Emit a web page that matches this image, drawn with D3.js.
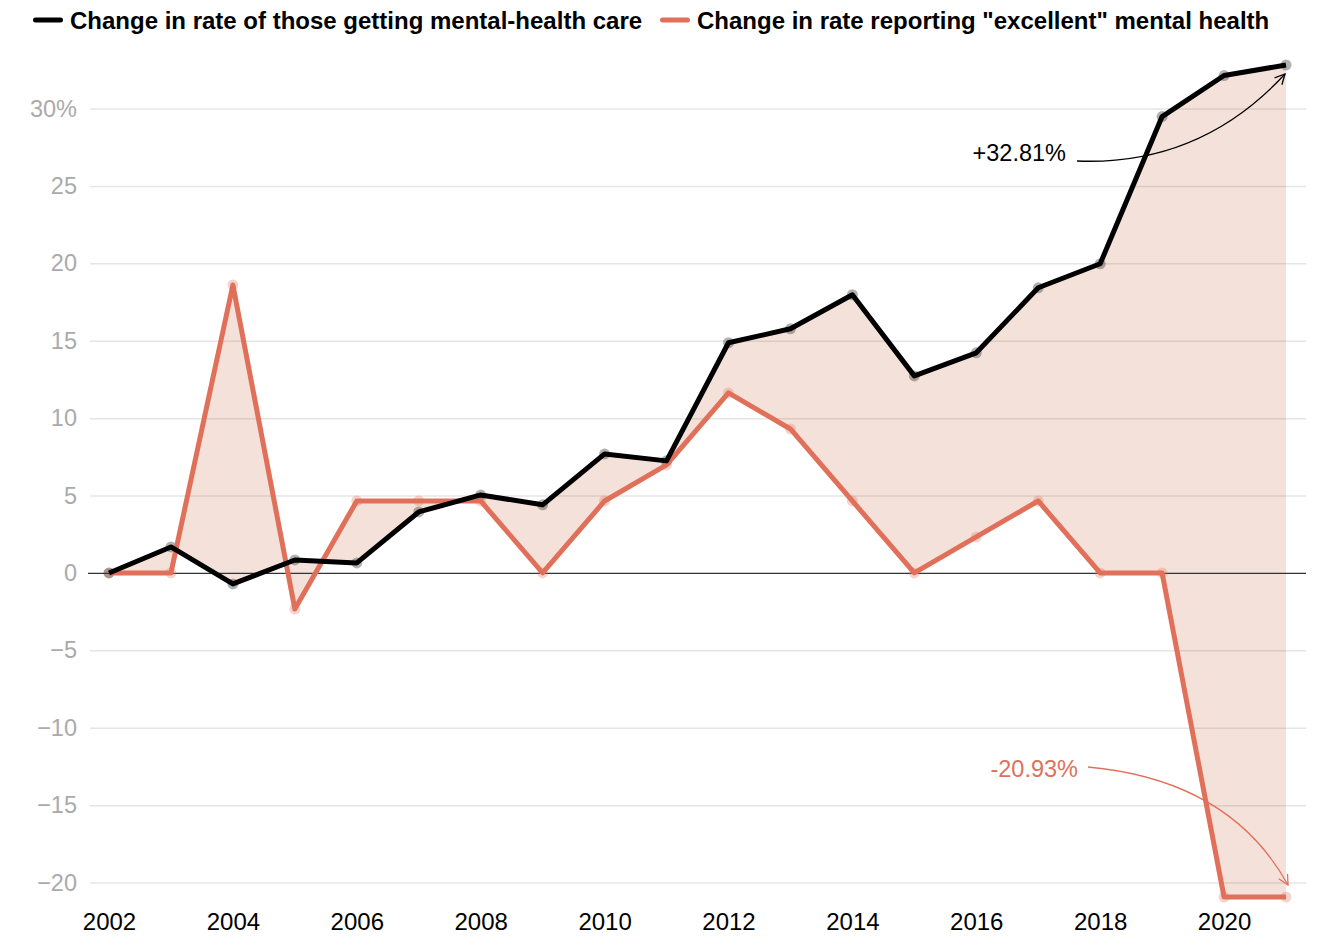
<!DOCTYPE html>
<html>
<head>
<meta charset="utf-8">
<script src="https://cdn.jsdelivr.net/npm/d3@7"></script>
<style>
  body { margin: 0; background: #fff; }
  svg { font-family: "Liberation Sans", Arial, sans-serif; }
</style>
</head>
<body>
<svg id="chart" width="1322" height="948"></svg>
<script>
// data
const years = [2002, 2003, 2004, 2005, 2006, 2007, 2008, 2009, 2010, 2011,
               2012, 2013, 2014, 2015, 2016, 2017, 2018, 2019, 2020, 2021];
const careChange = [0, 1.68, -0.71, 0.84, 0.65, 3.94, 5.04, 4.40, 7.69, 7.24,
                    14.87, 15.77, 17.97, 12.73, 14.22, 18.42, 19.97, 29.48, 32.13, 32.81];
const excellentChange = [0, 0, 18.60, -2.33, 4.65, 4.65, 4.65, 0, 4.65, 6.98,
                         11.63, 9.30, 4.65, 0, 2.33, 4.65, 0, 0, -20.93, -20.93];
const yTicks = [-20, -15, -10, -5, 0, 5, 10, 15, 20, 25, 30];
const xTicks = [2002, 2004, 2006, 2008, 2010, 2012, 2014, 2016, 2018, 2020];
const legendLabels = ["Change in rate of those getting mental-health care",
                      "Change in rate reporting \"excellent\" mental health"];

const black = "#000000";
const red = "#e0705a";
const fillColor = "#f4e2da";

const svg = d3.select("#chart");

const xScale = d3.scaleLinear()
                .domain([2002, 2021])
                .range([109, 1286]);

const yScale = d3.scaleLinear()
                .domain([-20.93, 32.81])
                .range([897, 65]);

const data = years.map((y, i) => ({year: y, care: careChange[i], exc: excellentChange[i]}));

// area between the two series
const area = d3.area()
                .x(d => xScale(d.year))
                .y0(d => yScale(d.exc))
                .y1(d => yScale(d.care));

svg.append("path")
    .datum(data)
    .attr("d", area)
    .attr("fill", fillColor);

// gridlines
const leftAxis = d3.axisLeft(yScale)
                .tickValues(yTicks)
                .tickSize(-(1306 - 90))
                .tickPadding(13)
                .tickFormat(d => d === 30 ? "30%" : d3.format("")(d));

svg.append("g")
    .attr("class", "axis")
    .attr("transform", "translate(90,0)")
    .call(leftAxis)
    .call(g => g.select(".domain").remove())
    .call(g => g.selectAll("line")
                .attr("stroke", d => d === 0 ? "#333333" : "rgba(0,0,0,0.1)")
                .attr("stroke-width", d => d === 0 ? 1.3 : 1.5)
                .attr("x1", d => d === 0 ? -2 : 0))
    .call(g => g.selectAll("text")
                .attr("fill", "#aaaaaa")
                .attr("font-size", "23.5px"));

const bottomAxis = d3.axisBottom(xScale)
                .tickValues(xTicks)
                .tickSize(0)
                .tickPadding(16)
                .tickFormat(d3.format("d"));

svg.append("g")
    .attr("class", "axis")
    .attr("transform", "translate(0,897)")
    .call(bottomAxis)
    .call(g => g.select(".domain").remove())
    .call(g => g.selectAll("text")
                .attr("fill", "#000")
                .attr("font-size", "24px"));

// dots behind lines
svg.append("g")
    .selectAll("circle")
    .data(data)
    .join("circle")
    .attr("cx", d => xScale(d.year))
    .attr("cy", d => yScale(d.exc))
    .attr("r", 5.5)
    .attr("fill", red)
    .attr("opacity", 0.3);

svg.append("g")
    .selectAll("circle")
    .data(data)
    .join("circle")
    .attr("cx", d => xScale(d.year))
    .attr("cy", d => yScale(d.care))
    .attr("r", 5.5)
    .attr("fill", "#000")
    .attr("opacity", 0.3);

const lineExc = d3.line()
                .x(d => xScale(d.year))
                .y(d => yScale(d.exc));

const lineCare = d3.line()
                .x(d => xScale(d.year))
                .y(d => yScale(d.care));

svg.append("path")
    .datum(data)
    .attr("d", lineExc)
    .attr("fill", "none")
    .attr("stroke", red)
    .attr("stroke-width", 5)
    .attr("stroke-linejoin", "round");

svg.append("path")
    .datum(data)
    .attr("d", lineCare)
    .attr("fill", "none")
    .attr("stroke", black)
    .attr("stroke-width", 5)
    .attr("stroke-linejoin", "round");

// legend
const legendX = [33, 660];
legendLabels.forEach((label, i) => {
    svg.append("line")
        .attr("x1", legendX[i] + 2.5)
        .attr("x2", legendX[i] + 27.5)
        .attr("y1", 20)
        .attr("y2", 20)
        .attr("stroke", i === 0 ? black : red)
        .attr("stroke-width", 5)
        .attr("stroke-linecap", "round");
    svg.append("text")
        .attr("x", legendX[i] + 37)
        .attr("y", 29)
        .attr("font-size", "24px")
        .attr("font-weight", "bold")
        .attr("fill", "#000")
        .text(label);
});

// annotations
const defs = svg.append("defs");
[["arrow-black", black], ["arrow-red", red]].forEach(([id, c]) => {
    defs.append("marker")
        .attr("id", id)
        .attr("viewBox", "0 0 12 12")
        .attr("refX", 11)
        .attr("refY", 6)
        .attr("markerWidth", 12)
        .attr("markerHeight", 12)
        .attr("markerUnits", "userSpaceOnUse")
        .attr("orient", "auto")
        .append("path")
        .attr("d", "M1,1 L11,6 L1,11")
        .attr("fill", "none")
        .attr("stroke", c)
        .attr("stroke-width", 1.3);
});

const lastCare = careChange[careChange.length - 1];
const lastExc = excellentChange[excellentChange.length - 1];
const xEnd = xScale(years[years.length - 1]);

svg.append("text")
    .attr("x", 1066)
    .attr("y", 161)
    .attr("text-anchor", "end")
    .attr("font-size", "23.5px")
    .attr("fill", black)
    .text("+" + lastCare.toFixed(2) + "%");

svg.append("path")
    .attr("d", `M1077,161 Q1200,166 ${xEnd - 1},${yScale(lastCare) + 9}`)
    .attr("fill", "none")
    .attr("stroke", black)
    .attr("stroke-width", 1.3)
    .attr("marker-end", "url(#arrow-black)");

svg.append("text")
    .attr("x", 1078)
    .attr("y", 777)
    .attr("text-anchor", "end")
    .attr("font-size", "23.5px")
    .attr("fill", red)
    .text(lastExc.toFixed(2) + "%");

svg.append("path")
    .attr("d", `M1088,767 Q1230,780 ${xEnd + 2},${yScale(lastExc) - 12}`)
    .attr("fill", "none")
    .attr("stroke", red)
    .attr("stroke-width", 1.3)
    .attr("marker-end", "url(#arrow-red)");
</script>
</body>
</html>
